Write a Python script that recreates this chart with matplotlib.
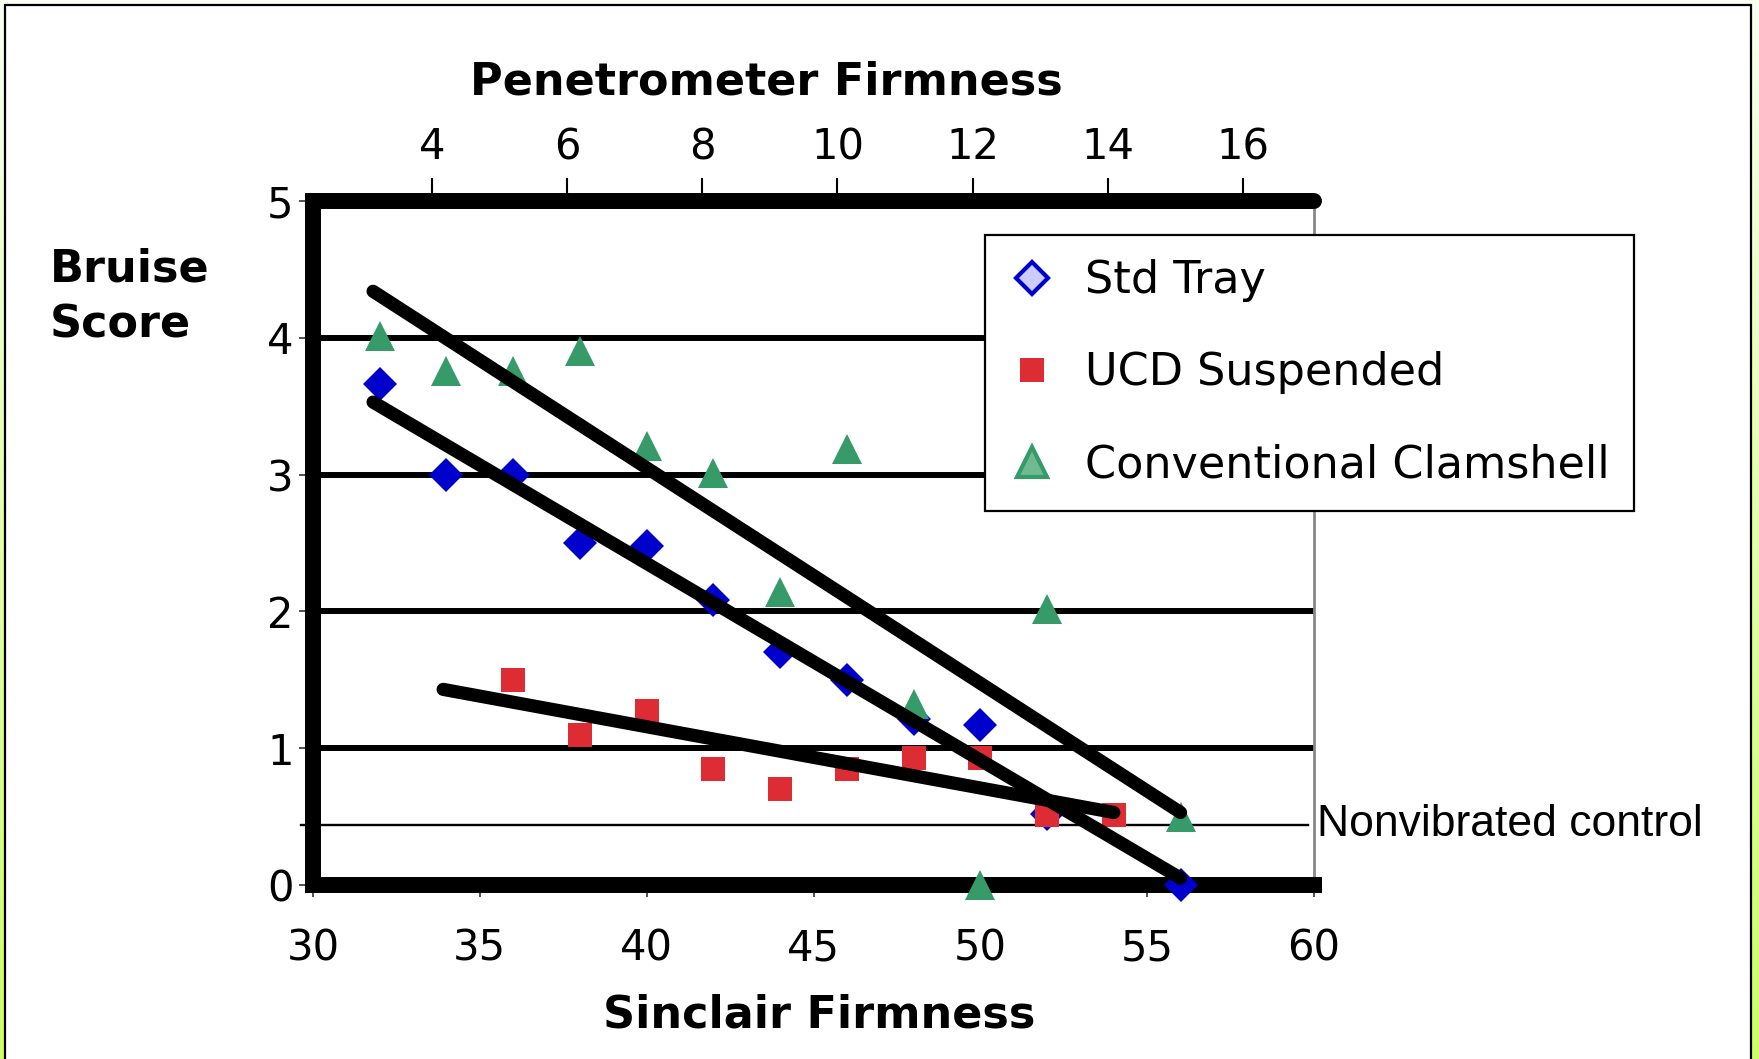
import numpy as np
import matplotlib
matplotlib.use('Agg')
import matplotlib.pyplot as plt
from matplotlib.lines import Line2D
from matplotlib.patches import Rectangle

# Sinclair firmness (bottom axis) and bruise scores
std_x = [32, 34, 36, 38, 40, 42, 44, 46, 48, 50, 52, 56]
std_y = [3.66, 3.0, 3.0, 2.5, 2.48, 2.08, 1.70, 1.50, 1.21, 1.17, 0.52, 0.0]

ucd_x = [36, 38, 40, 42, 44, 46, 48, 50, 52, 54]
ucd_y = [1.50, 1.10, 1.27, 0.85, 0.70, 0.85, 0.93, 0.93, 0.51, 0.51]

clam_x = [32, 34, 36, 38, 40, 42, 44, 46, 48, 50, 52, 56]
clam_y = [4.01, 3.76, 3.76, 3.90, 3.21, 3.01, 2.14, 3.19, 1.32, 0.0, 2.02, 0.50]

# hand drawn trend lines (end points)
trend_clam_x, trend_clam_y = [31.8, 56.0], [4.34, 0.53]
trend_std_x, trend_std_y = [31.8, 56.0], [3.53, 0.05]
trend_ucd_x, trend_ucd_y = [33.9, 54.0], [1.43, 0.53]

control = 0.44

sinclair_ticks = [30, 35, 40, 45, 50, 55, 60]
pen_ticks = [4, 6, 8, 10, 12, 14, 16]
pen_lim = (2.24, 17.05)
score_ticks = [0, 1, 2, 3, 4, 5]

blue = '#0000cc'
red = '#dd2c33'
green = '#369b68'

fig = plt.figure(figsize=(17.59, 10.59), dpi=100)

# slide background: pale to lime gradient, white panel with black frame
bg = fig.add_axes([0, 0, 1, 1], zorder=-5)
top = np.array([250, 255, 242]) / 255
bot = np.array([204, 255, 102]) / 255
t = np.linspace(0, 1, 256)[:, None, None]
grad = top * (1 - t) + bot * t
bg.imshow(grad, aspect='auto', extent=[0, 1, 0, 1])
bg.axis('off')
fig.patches.append(Rectangle((5 / 1759, -0.02), 1746 / 1759, 1 - 5 / 1059 + 0.02,
                             transform=fig.transFigure, facecolor='white',
                             edgecolor='black', linewidth=1.6, zorder=-4))

ax = fig.add_axes([313 / 1759, 1 - 885 / 1059, 1001 / 1759, 684 / 1059])
ax.set_facecolor('none')

ax.set_xlim(30, 60)
ax.set_ylim(0, 5)
ax.set_xticks(sinclair_ticks)
ax.set_yticks(score_ticks)
ax.tick_params(axis='x', labelsize=30, length=8.5, width=1.2, pad=22, color='#333333')
ax.tick_params(axis='y', labelsize=30, length=10, width=1.2, pad=4, color='#333333')

ax.grid(axis='y', color='black', linewidth=4.3)
ax.set_axisbelow(True)

for side in ['left', 'bottom']:
    ax.spines[side].set_linewidth(11.5)
    ax.spines[side].set_capstyle('projecting')
ax.spines['top'].set_visible(False)
ax.spines['right'].set_color('#888888')
ax.spines['right'].set_linewidth(2)

# nonvibrated control line
ax.axhline(control, xmin=-0.012, xmax=0.994, color='black', linewidth=1.7,
           clip_on=False, zorder=2)
ax.text(60.1, control, 'Nonvibrated control', fontsize=32,
        family='Liberation Sans', va='center', ha='left')

ax.plot(std_x, std_y, 'D', color=blue, ms=17, mew=0, clip_on=False, zorder=4)
ax.plot(ucd_x, ucd_y, 's', color=red, ms=17, mew=0, clip_on=False, zorder=4)
ax.plot(clam_x, clam_y, '^', color=green, ms=22, mew=0, clip_on=False, zorder=4)

for xs, ys in [(trend_clam_x, trend_clam_y), (trend_std_x, trend_std_y),
               (trend_ucd_x, trend_ucd_y)]:
    ax.plot(xs, ys, color='black', linewidth=9.5, solid_capstyle='round',
            clip_on=False, zorder=5)

# secondary (top) axis: penetrometer firmness
ax2 = ax.twiny()
ax2.set_xlim(*pen_lim)
ax2.set_xticks(pen_ticks)
ax2.tick_params(axis='x', labelsize=30, length=16.5, width=1.5, pad=7)
for side in ['left', 'right', 'bottom']:
    ax2.spines[side].set_visible(False)
ax2.spines['top'].set_linewidth(11.5)
ax2.spines['top'].set_capstyle('round')

fig.text(766 / 1759, 1 - 82 / 1059, 'Penetrometer Firmness', fontsize=32,
         fontweight='bold', ha='center', va='center')
fig.text(819 / 1759, 1 - 1015 / 1059, 'Sinclair Firmness', fontsize=32,
         fontweight='bold', ha='center', va='center')
fig.text(50 / 1759, 1 - 297 / 1059, 'Bruise\nScore', fontsize=32,
         fontweight='bold', ha='left', va='center', linespacing=1.4)

handles = [
    Line2D([], [], ls='none', marker='D', ms=16, mfc='#ccccff', mec=blue, mew=3),
    Line2D([], [], ls='none', marker='s', ms=17, color=red, mew=0),
    Line2D([], [], ls='none', marker='^', ms=21, mfc='#6fba90', mec=green, mew=3),
]
leg = ax2.legend(handles, ['Std Tray', 'UCD Suspended', 'Conventional Clamshell'],
                 loc='upper left', bbox_to_anchor=(985 / 1759, 1 - 235 / 1059),
                 bbox_transform=fig.transFigure, borderaxespad=0,
                 fontsize=32, frameon=True, fancybox=False, framealpha=1,
                 edgecolor='black', borderpad=0.55, handlelength=1.0,
                 handletextpad=0.7, labelspacing=1.1)
leg.get_frame().set_linewidth(1.6)
leg.set_zorder(10)

plt.savefig('out.png', dpi=100)
